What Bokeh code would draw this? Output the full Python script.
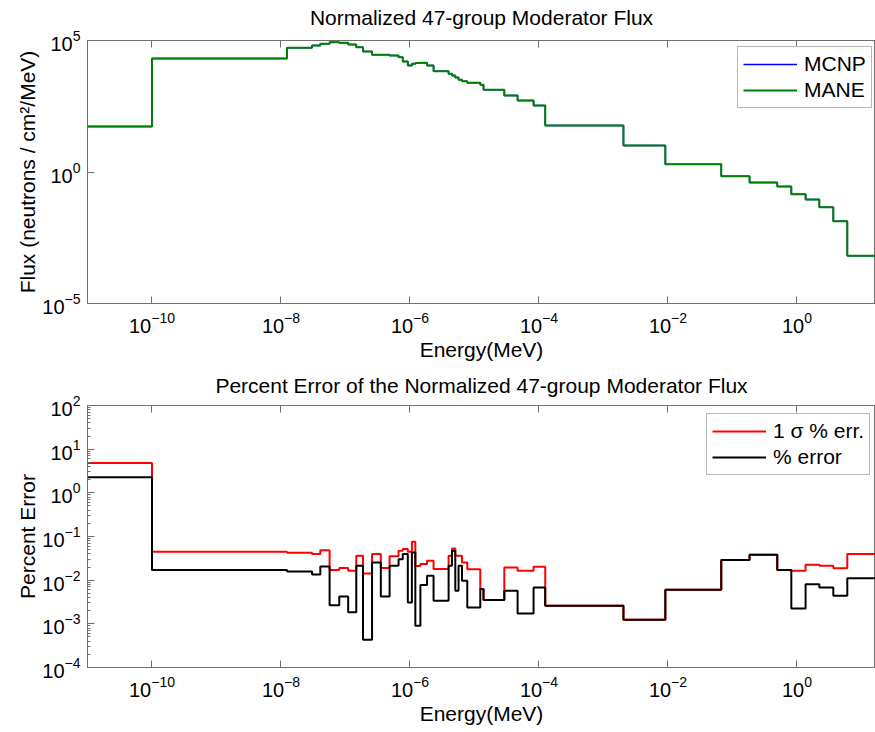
from bokeh.plotting import figure
from bokeh.models import LogAxis, FixedTicker, Range1d
from bokeh.layouts import column
from bokeh.embed import file_html
from bokeh.resources import INLINE

# ---------------- data ----------------
# group boundaries (MeV), ascending
edges = [1e-11, 1e-10, 1.24e-8, 3.03e-8, 4.07e-8, 5.67e-8, 8.01e-8, 1.10e-7,
         1.47e-7, 1.87e-7, 2.58e-7, 3.53e-7, 4.83e-7, 6.65e-7, 7.73e-7, 9.25e-7,
         1.07e-6, 1.21e-6, 1.45e-6, 1.84e-6, 2.32e-6, 3.97e-6, 4.48e-6, 5.04e-6,
         5.66e-6, 6.40e-6, 7.73e-6, 1.23e-5, 1.38e-5, 2.90e-5, 4.66e-5, 8.24e-5,
         1.25e-4, 2.04e-3, 9.1e-3, 6.7e-2, 0.184, 0.495, 0.817, 1.36, 2.22,
         3.66, 6.03, 17.33]

mane_flux = [54, 2.07e4, 5.27e4, 6.45e4, 7.5e4, 8.6e4, 8.2e4, 7.05e4, 5.56e4,
             3.82e4, 2.9e4, 2.85e4, 2.7e4, 2.3e4, 1.6e4, 1.12e4, 1.3e4, 1.4e4,
             1.42e4, 1.12e4, 6.8e3, 5.4e3, 4.7e3, 3.9e3, 3.2e3, 2.8e3, 2.47e3,
             2.1e3, 1.33e3, 811, 524, 338, 58.6, 10.2, 1.98, 0.69, 0.40, 0.28,
             0.143, 0.09, 0.046, 0.0135, 6.5e-4]

mcnp_flux = [54, 2.07e4, 5.27e4, 6.45e4, 7.5e4, 8.6e4, 8.2e4, 7.05e4, 5.56e4,
             3.82e4, 2.9e4, 2.85e4, 2.7e4, 2.3e4, 1.6e4, 1.12e4, 1.3e4, 1.4e4,
             1.42e4, 1.12e4, 6.8e3, 5.4e3, 4.7e3, 3.9e3, 3.2e3, 2.8e3, 2.47e3,
             2.1e3, 1.33e3, 811, 524, 338, 58.6, 10.2, 1.98, 0.69, 0.40, 0.28,
             0.143, 0.09, 0.046, 0.0135, 6.5e-4]

sigma_err = [4.8, 0.0448, 0.0425, 0.040, 0.0485, 0.017, 0.019, 0.0164, 0.036,
             0.0143, 0.040, 0.019, 0.0355, 0.047, 0.052, 0.045, 0.076, 0.021,
             0.0235, 0.0279, 0.018, 0.036, 0.053, 0.036, 0.036, 0.0253, 0.0179,
             6.25e-3, 3.5e-3, 0.0196, 0.0164, 0.0202, 2.6e-3, 1.24e-3, 6.0e-3,
             0.0289, 0.0383, 0.017, 0.0164, 0.0226, 0.0215, 0.0188, 0.040]

pct_err = [2.27, 0.017, 0.0157, 0.0135, 0.0206, 2.65e-3, 4.2e-3, 1.84e-3, 0.0214,
           4.3e-4, 0.0255, 4.2e-3, 0.0214, 0.030, 0.040, 3.1e-3, 0.043, 9.0e-4,
           7.7e-3, 0.0126, 3.4e-3, 0.0214, 0.047, 5.7e-3, 0.0214, 9.7e-3, 2.37e-3,
           6.25e-3, 3.5e-3, 5.7e-3, 1.72e-3, 6.8e-3, 2.6e-3, 1.24e-3, 6.0e-3,
           0.0289, 0.0383, 0.017, 2.24e-3, 8.1e-3, 6.8e-3, 4.4e-3, 0.011]

x_ticks = [1e-10, 1e-8, 1e-6, 1e-4, 1e-2, 1]
flux_y_ticks = [1e-5, 1, 1e5]
err_y_ticks = [1e-4, 1e-3, 1e-2, 1e-1, 1, 10, 100]
err_y_minor = [k * 10.0 ** e for e in range(-4, 2) for k in range(2, 10)]

FONT = "Liberation Sans"
AX = "#6f6f6f"


def steps(vals):
    return list(vals) + [vals[-1]]


def make_fig(title, ylabel, yr, height, b_top, b_bottom, yt, yminor, standoff):
    p = figure(width=875, height=height, x_axis_type="log", y_axis_type="log",
               x_range=Range1d(1e-11, 16.5), y_range=Range1d(*yr),
               output_backend="svg", toolbar_location=None,
               min_border_left=87, min_border_right=0,
               min_border_top=b_top, min_border_bottom=b_bottom)
    p.xgrid.visible = False
    p.ygrid.visible = False
    p.outline_line_color = AX
    p.outline_line_width = 1

    xa = p.xaxis[0]
    xa.ticker = FixedTicker(ticks=x_ticks)
    ya = p.yaxis[0]
    ya.ticker = FixedTicker(ticks=yt, minor_ticks=yminor)
    for ax in (xa, ya):
        ax.axis_line_color = AX
        ax.major_tick_line_color = AX
        ax.minor_tick_line_color = AX
        ax.major_tick_in = 7
        ax.major_tick_out = 0
        ax.minor_tick_in = 3
        ax.minor_tick_out = 0
        ax.major_label_text_font = FONT
        ax.major_label_text_font_size = "20px"
        ax.major_label_text_color = "black"
        ax.axis_label_text_font = FONT
        ax.axis_label_text_font_size = "21px"
        ax.axis_label_text_font_style = "normal"
        ax.axis_label_text_color = "black"
    xa.axis_label = "Energy(MeV)"
    ya.axis_label = ylabel
    xa.major_label_standoff = 8
    xa.axis_label_standoff = 2
    ya.major_label_standoff = 7
    ya.axis_label_standoff = 0

    # top axis: inward ticks only, its label serves as the plot title
    top = LogAxis(ticker=FixedTicker(ticks=x_ticks), axis_line_color=AX,
                  major_tick_line_color=AX, major_tick_in=7, major_tick_out=0,
                  minor_tick_line_color=None, major_label_text_font_size="1px",
                  major_label_text_color=None, major_label_standoff=0,
                  axis_label=title, axis_label_standoff=standoff,
                  axis_label_text_font=FONT, axis_label_text_font_size="21px",
                  axis_label_text_font_style="normal",
                  axis_label_text_color="black")
    p.add_layout(top, "above")
    return p


p1 = make_fig("Normalized 47-group Moderator Flux",
              "Flux (neutrons / cm\u00b2/MeV)", (1e-5, 1e5), 366, 40, 63,
              flux_y_ticks, [], 12)
p1.step(x=edges, y=steps(mcnp_flux), mode="after", line_width=1.5,
        color="#0000ff", legend_label="MCNP")
p1.step(x=edges, y=steps(mane_flux), mode="after", line_width=2,
        color="#008000", legend_label="MANE")

p2 = make_fig("Percent Error of the Normalized 47-group Moderator Flux",
              "Percent Error", (1e-4, 1e2), 366, 39, 65,
              err_y_ticks, err_y_minor, 9)
p2.step(x=edges, y=steps(sigma_err), mode="after", line_width=2,
        color="#ff0000", legend_label="1 \u03c3 % err.")
p2.step(x=edges, y=steps(pct_err), mode="after", line_width=2,
        color="black", legend_label="% error")

for p, loc in ((p1, (650, 195)), (p2, (619, 192))):
    lg = p.legend[0]
    lg.location = loc
    lg.margin = 0
    lg.padding = 5
    lg.spacing = 2
    lg.glyph_width = 54
    lg.glyph_height = 20
    lg.label_height = 20
    lg.label_standoff = 7
    lg.label_text_font = FONT
    lg.label_text_font_size = "21px"
    lg.label_text_color = "black"
    lg.border_line_color = AX
    lg.border_line_width = 1
    lg.background_fill_alpha = 1

layout = column(p1, p2)
open("out.html", "w").write(file_html(layout, INLINE))
